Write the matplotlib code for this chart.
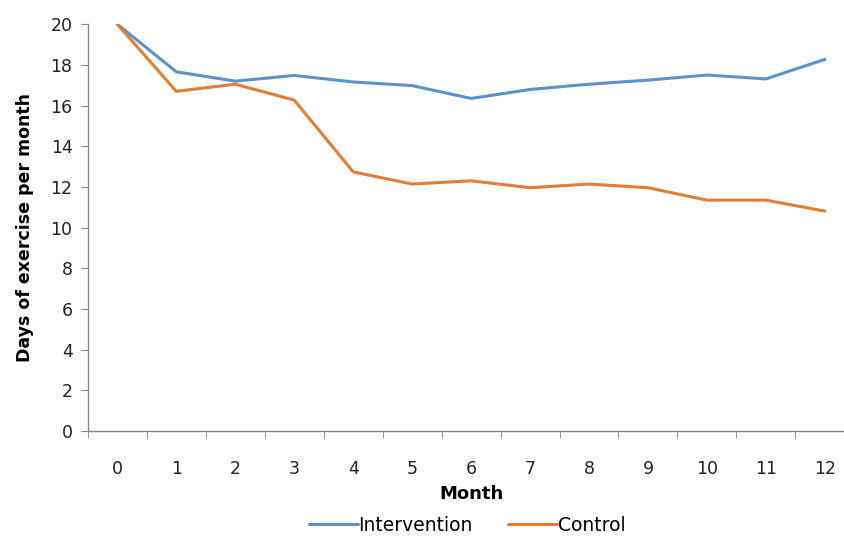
import matplotlib
matplotlib.use("Agg")
import matplotlib.pyplot as plt
from matplotlib.ticker import FixedLocator

plt.rcParams['font.family'] = ['DejaVu Sans']

months = list(range(13))
month_labels = [str(m) for m in months]
intervention = [20.0, 17.66, 17.2, 17.48, 17.16, 16.98, 16.35, 16.79, 17.05, 17.25, 17.5, 17.31, 18.27]
control = [20.0, 16.7, 17.05, 16.27, 12.74, 12.14, 12.3, 11.96, 12.14, 11.96, 11.35, 11.35, 10.81]
y_ticks = list(range(0, 21, 2))

fig = plt.figure(figsize=(8.45, 5.38), dpi=100)
ax = fig.add_axes([0.104, 0.199, 0.907, 0.756])

blue = '#5A93C9'
orange = '#E27D35'
ax.plot(months, intervention, color=blue, lw=2.2, label='Intervention', solid_capstyle='round')
ax.plot(months, control, color=orange, lw=2.2, label='Control', solid_capstyle='round')

ax.set_xlim(-0.5, 12.5)
ax.set_ylim(0, 20)
ax.set_yticks(y_ticks)
ax.set_xticks(months)
ax.set_xticklabels(month_labels)
ax.xaxis.set_minor_locator(FixedLocator([i - 0.5 for i in range(14)]))

axis_col = '#868686'
for s in ['top', 'right']:
    ax.spines[s].set_visible(False)
for s in ['left', 'bottom']:
    ax.spines[s].set_color(axis_col)
    ax.spines[s].set_linewidth(1.0)

ax.tick_params(axis='y', direction='out', length=5, color=axis_col, labelsize=12.5, labelcolor='#222222', pad=6)
ax.tick_params(axis='x', which='major', length=0, labelsize=12.5, labelcolor='#222222', pad=21)
ax.tick_params(axis='x', which='minor', direction='out', length=5, color=axis_col)

ax.set_xlabel('Month', fontsize=13, fontweight='bold', labelpad=5)
ax.set_ylabel('Days of exercise per month', fontsize=12.5, fontweight='bold', labelpad=12)

fig.legend(loc='center', bbox_to_anchor=(0.553, 0.024), ncol=2, frameon=False,
           fontsize=13.5, handlelength=2.6, columnspacing=1.9, handletextpad=0.05)

fig.savefig('out.png', dpi=100)
